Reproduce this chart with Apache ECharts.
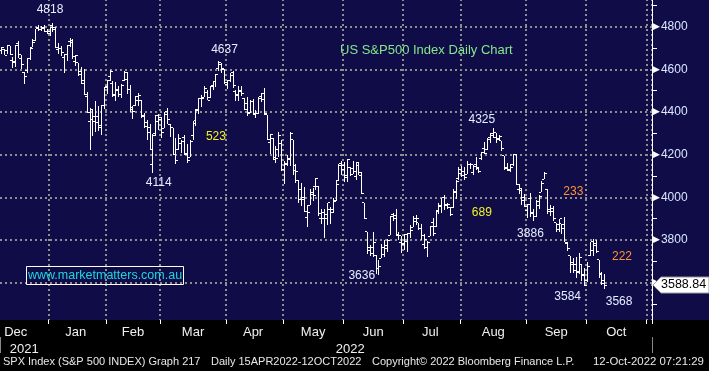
<!DOCTYPE html>
<html><head><meta charset="utf-8">
<script src="https://cdn.jsdelivr.net/npm/echarts/dist/echarts.min.js"></script>
<style>html,body{margin:0;padding:0;background:#000;overflow:hidden;width:709px;height:371px;}
#c{position:absolute;left:0;top:-16px;width:709px;height:387px;}</style>
</head><body><div id="c"></div>
<script>
// ---- categories: US trading days (weekends + exchange holidays skipped) ----
const firstDay = [2021, 11, 8];
const lastDay = [2022, 10, 2];
const holidays = ['2021-12-24','2022-01-17','2022-02-21','2022-04-15','2022-05-30','2022-06-20','2022-07-04','2022-09-05'];
const monthNames = ['Jan','Feb','Mar','Apr','May','Jun','Jul','Aug','Sep','Oct','Nov','Dec'];

// ---- daily OHLC values (Dec 8 2021 .. Oct 11 2022) ----
const opens = [
 4690,4691,4687,4710,4642,4636,4719,4652,4587,4595,4650,4703,4733,4795,4788,4795,4775,
 4778,4805,4788,4693,4698,4655,4669,4729,4734,4638,4632,4588,4547,4471,4356,4367,4381,4381,4336,4432,
 4520,4566,4535,4483,4506,4480,4547,4553,4506,4413,4429,4456,4456,4385,4333,4325,4156,4298,4354,
 4363,4323,4401,4342,4327,4203,4223,4253,4280,4203,4189,4288,4345,4407,4462,4469,4493,4470,4523,4541,4603,4624,4599,
 4540,4548,4572,4494,4475,4494,4463,4438,4394,4449,4386,4391,4472,4489,4386,4255,4278,4187,4223,4254,
 4131,4160,4181,4270,4128,4081,4035,3990,3904,3964,4013,4052,4052,3899,3928,3919,3943,3930,3985,4077,4151,
 4150,4095,4138,4135,4096,4147,4102,3974,3838,3764,3764,3728,3666,3715,3734,3775,3822,3921,3913,3825,3786,
 3781,3793,3832,3859,3888,3881,3852,3780,3764,3818,3884,3861,3935,3955,3998,3966,3953,3951,4026,4087,
 4112,4104,4108,4155,4116,4156,4133,4181,4227,4225,4269,4290,4280,4273,4266,4195,4133,4127,4153,4199,4035,4041,4001,
 3937,3995,3931,3909,3960,4023,4084,4037,3941,3932,3881,3850,3875,3871,3782,3727,3683,3686,3652,3687,3633,
 3610,3726,3753,3772,3707,3644,3596
];
const highs = [
 4705,4695,4713,4710,4660,4712,4731,4666,4587,4651,4698,4740,4791,4807,4804,4808,4787,
 4797,4819,4798,4725,4708,4673,4714,4749,4744,4665,4632,4612,4602,4495,4417,4411,4453,4429,4433,4517,
 4550,4595,4543,4540,4522,4531,4590,4589,4526,4426,4473,4490,4456,4395,4362,4342,4295,4385,4389,
 4378,4401,4417,4342,4327,4277,4299,4268,4291,4248,4271,4358,4413,4465,4482,4522,4501,4521,4546,4576,4637,4628,4603,
 4549,4584,4593,4504,4521,4520,4464,4471,4454,4460,4410,4471,4488,4513,4386,4299,4278,4241,4308,4270,
 4170,4200,4308,4270,4158,4081,4069,4049,3965,4039,4046,4089,4052,3946,3943,3975,3956,3999,4075,4158,4168,
 4167,4178,4143,4169,4165,4160,4119,3974,3838,3778,3838,3728,3708,3780,3802,3803,3914,3928,3946,3837,3819,
 3830,3832,3871,3911,3919,3881,3873,3829,3796,3864,3902,3940,3974,3999,4012,3975,3953,4040,4079,4140,
 4145,4140,4168,4161,4152,4187,4137,4211,4258,4280,4302,4325,4302,4293,4266,4195,4160,4157,4201,4203,4063,4045,4015,
 3970,4018,3943,3988,4011,4077,4119,4037,3962,3959,3881,3900,3876,3907,3790,3727,3716,3718,3737,3687,3671,
 3698,3792,3807,3798,3707,3652,3641
];
const lows = [
 4674,4665,4670,4667,4606,4611,4651,4600,4531,4583,4645,4703,4733,4781,4778,4775,4765,
 4758,4774,4699,4671,4663,4582,4638,4707,4650,4615,4569,4530,4478,4395,4223,4287,4305,4310,4292,4414,
 4484,4544,4470,4452,4471,4465,4547,4484,4401,4365,4429,4430,4374,4327,4267,4222,4115,4287,4315,
 4280,4323,4346,4285,4200,4158,4223,4210,4200,4162,4188,4268,4336,4391,4424,4469,4456,4465,4501,4518,4590,4581,4530,
 4508,4539,4514,4450,4450,4475,4408,4381,4393,4391,4370,4391,4449,4384,4268,4201,4175,4163,4189,4124,
 4063,4147,4149,4106,4068,3975,3958,3929,3859,3964,3984,4034,3912,3877,3810,3869,3875,3925,3985,4077,4105,
 4074,4074,4099,4109,4080,4107,4017,3900,3734,3725,3722,3640,3637,3715,3718,3744,3822,3890,3820,3799,3739,
 3752,3742,3809,3859,3869,3847,3802,3759,3722,3817,3819,3861,3922,3928,3939,3943,3911,3951,3993,4079,
 4096,4080,4108,4135,4107,4129,4112,4177,4201,4220,4257,4278,4253,4262,4219,4130,4124,4120,4148,4058,4017,3965,3955,
 3904,3906,3887,3906,3945,4023,4084,3922,3912,3888,3837,3839,3828,3789,3749,3647,3645,3623,3641,3610,3584,
 3605,3726,3723,3739,3621,3588,3568
];
const closes = [
 4701,4667,4712,4669,4634,4710,4669,4621,4568,4649,4697,4726,4791,4786,4793,4779,4766,
 4797,4794,4701,4696,4677,4670,4713,4726,4659,4663,4577,4533,4483,4398,4410,4356,4350,4327,4432,4516,
 4547,4589,4477,4501,4484,4522,4587,4504,4419,4402,4471,4475,4380,4349,4305,4226,4289,4385,4374,
 4306,4387,4363,4329,4201,4171,4278,4260,4204,4173,4262,4358,4412,4463,4461,4512,4456,4520,4543,4576,4632,4602,4530,
 4546,4583,4525,4481,4500,4488,4413,4397,4447,4393,4392,4462,4459,4394,4272,4296,4175,4184,4288,4132,
 4155,4175,4300,4147,4123,3991,4001,3935,3930,4024,4008,4089,3924,3901,3901,3974,3941,3979,4058,4158,4132,
 4101,4177,4109,4121,4161,4116,4018,3901,3750,3735,3790,3667,3675,3765,3760,3796,3912,3900,3822,3819,3785,
 3825,3831,3845,3903,3899,3854,3819,3802,3790,3863,3831,3937,3960,3999,3962,3967,3921,4024,4072,4130,
 4119,4091,4155,4152,4145,4140,4122,4210,4207,4280,4297,4305,4274,4284,4228,4138,4129,4141,4199,4058,4031,3986,3955,
 3967,3924,3908,3980,4006,4067,4110,3933,3946,3901,3873,3900,3856,3790,3758,3693,3655,3647,3719,3640,3586,
 3678,3791,3783,3745,3640,3612,3588.84
];

// ---- y axis ticks ----
const yMin = 3400, yMax = 5000, yStep = 200;

// ---- annotations ----
const annoText  = ['4818','4637','523','4114','3636','4325','689','3886','233','3584','222','3568'];
const annoIdx   = [17, 78, 75, 55, 126, 168, 168, 185, 200, 198, 217, 216];
const annoVal   = [4880, 4692, 4284, 4069, 3633, 4364, 3928, 3830, 4027, 3534, 3722, 3511];
const annoKind  = ['n','n','y','n','n','n','y','n','o','n','o','n'];

const FONT = '"Liberation Sans", Arial, sans-serif';
const COLORS = {n:'#e6eeff', y:'#f4f41e', o:'#ff9430'};
const OFF = 16; // chart canvas is shifted up by this many px (page y + OFF = chart y)

// build trading-day categories
const dates = [];
(function(){
  let t = Date.UTC(firstDay[0], firstDay[1], firstDay[2]);
  const end = Date.UTC(lastDay[0], lastDay[1], lastDay[2]);
  while (t <= end) {
    const d = new Date(t);
    const wd = d.getUTCDay();
    const s = d.toISOString().slice(0, 10);
    if (wd !== 0 && wd !== 6 && holidays.indexOf(s) < 0) dates.push(s);
    t += 86400000;
  }
})();

// month segments
const segs = [];
dates.forEach((s, i) => {
  const m = s.slice(0, 7);
  if (!segs.length || segs[segs.length - 1].m !== m) segs.push({m: m, start: i, end: i});
  else segs[segs.length - 1].end = i;
});
const tickSet = new Set(segs.filter(g => g.start > 0).map(g => g.start));
const labelSet = new Set();
segs.forEach(g => {
  const n = g.end - g.start + 1;
  if (g.start === 0) labelSet.add(Math.max(0, g.end - 11));
  else if (n >= 15) labelSet.add(g.start + Math.floor((n - 1) / 2));
});
let yearSep = null;
segs.forEach(g => { if (g.m.slice(5) === '01') yearSep = g.start; });
const yearLabelSet = new Set([8, 122]);

const ohlc = opens.map((o, i) => [i, o, closes[i], lows[i], highs[i]]);
const annoData = annoIdx.map((x, i) => [x, annoVal[i]]);

const chart = echarts.init(document.getElementById('c'), null, {renderer: 'canvas'});
const chartH = 387;
const gridTop = 0, gridBottom = 45.67;
const axisBottomY = chartH - gridBottom;

const option = {
  backgroundColor: '#0f0c48',
  animation: false,
  title: {
    text: 'US S&P500 Index Daily Chart', left: 335, top: 39 + OFF,
    textStyle: {color: '#84e88a', fontSize: 13, fontWeight: 'normal', fontFamily: FONT}
  },
  grid: {left: 0, right: 57, top: gridTop, bottom: gridBottom, containLabel: false},
  xAxis: [
    { // vertical dotted grid
      type: 'category', data: dates, boundaryGap: true, z: 0,
      axisLine: {show: false}, axisTick: {show: false}, axisLabel: {show: false},
      splitLine: {show: true, interval: (i) => tickSet.has(i),
        lineStyle: {color: '#8e8e8e', width: 2, type: [2, 3]}}
    },
    { // month ticks + labels
      type: 'category', data: dates, boundaryGap: true, position: 'bottom', z: 6,
      offset: (320 + OFF) - axisBottomY,
      axisLine: {show: false},
      axisTick: {show: true, interval: (i) => tickSet.has(i), length: 4, lineStyle: {color: '#ffffff'}},
      axisLabel: {show: true, interval: (i) => labelSet.has(i), margin: 6,
        color: '#f0f0f0', fontSize: 13, fontFamily: FONT,
        formatter: (v) => monthNames[parseInt(v.slice(5, 7), 10) - 1]},
      splitLine: {show: false}
    },
    { // year separator + labels
      type: 'category', data: dates, boundaryGap: true, position: 'bottom', z: 6,
      offset: (337 + OFF) - axisBottomY,
      axisLine: {show: false},
      axisTick: {show: true, interval: (i) => i === yearSep, length: 16, lineStyle: {color: '#8a8a8a'}},
      axisLabel: {show: true, interval: (i) => yearLabelSet.has(i), margin: 6,
        color: '#f0f0f0', fontSize: 13, fontFamily: FONT,
        formatter: (v) => v.slice(0, 4)},
      splitLine: {show: false}
    }
  ],
  yAxis: {
    type: 'value', position: 'right', min: yMin, max: yMax, interval: yStep, z: 0,
    axisLine: {show: true, lineStyle: {color: '#ffffff', width: 1}},
    axisTick: {show: false},
    minorTick: {show: true, splitNumber: 2, length: 5, lineStyle: {color: '#ffffff'}},
    splitLine: {show: true, lineStyle: {color: '#8e8e8e', width: 2, type: [2, 3]}},
    axisLabel: {
      margin: 1,
      formatter: (v) => (v <= yMin || v >= yMax) ? '' : '{t|\u25B6}{v|' + v + '}',
      rich: {
        t: {color: '#ffffff', fontSize: 9, fontFamily: 'DejaVu Sans', padding: [0, 1, 0, 0]},
        v: {color: '#dbe6ff', fontSize: 12, fontFamily: FONT}
      }
    }
  },
  series: [
    {
      type: 'custom', name: 'SPX', xAxisIndex: 0, yAxisIndex: 0, z: 3,
      data: ohlc, encode: {x: 0, y: [1, 2, 3, 4]}, silent: true,
      renderItem: function (params, api) {
        const i = api.value(0);
        const pO = api.coord([i, api.value(1)]);
        const pC = api.coord([i, api.value(2)]);
        const pL = api.coord([i, api.value(3)]);
        const pH = api.coord([i, api.value(4)]);
        const xi = Math.round(pH[0] - 0.5);
        const yh = Math.round(pH[1]), yl = Math.round(pL[1]);
        const yo = Math.round(pO[1] - 0.5), yc = Math.round(pC[1] - 0.5);
        const st = {fill: '#ffffff'};
        return {type: 'group', children: [
          {type: 'rect', shape: {x: xi, y: yh, width: 1, height: Math.max(1, yl - yh)}, style: st},
          {type: 'rect', shape: {x: xi - 2, y: yo, width: 2, height: 1}, style: st},
          {type: 'rect', shape: {x: xi + 1, y: yc, width: 2, height: 1}, style: st}
        ]};
      }
    },
    {
      type: 'custom', name: 'notes', xAxisIndex: 0, yAxisIndex: 0, z: 4,
      data: annoData, encode: {x: 0, y: 1}, silent: true,
      renderItem: function (params, api) {
        const p = api.coord([api.value(0), api.value(1)]);
        return {type: 'text', x: p[0], y: p[1], style: {
          text: annoText[params.dataIndex], fill: COLORS[annoKind[params.dataIndex]],
          fontSize: 12, fontFamily: FONT, align: 'center', verticalAlign: 'middle'}};
      }
    }
  ]
};
chart.setOption(option);

const py = chart.convertToPixel({yAxisIndex: 0}, closes[closes.length - 1]);
chart.setOption({
  graphic: {elements: [
    {id: 'bottom', type: 'rect', z: 2, shape: {x: 0, y: 320 + OFF, width: 709, height: 51}, style: {fill: '#000000'}, silent: true},
    {id: 'wmBox', type: 'rect', z: 5, shape: {x: 26.5, y: 266.5 + OFF, width: 157, height: 18}, style: {fill: 'none', stroke: '#ffffff', lineWidth: 1}},
    {id: 'wmText', type: 'text', z: 5, x: 105, y: 276 + OFF, style: {text: 'www.marketmatters.com.au', fill: '#1ed6e2', fontSize: 12.5, fontFamily: FONT, align: 'center', verticalAlign: 'middle'}},
    {id: 'tag', type: 'polygon', z: 8, shape: {points: [[653, py], [661, py - 8], [709, py - 8], [709, py + 8], [661, py + 8]]}, style: {fill: '#ffffff', stroke: '#9a9a9a', lineWidth: 1}},
    {id: 'tagText', type: 'text', z: 9, x: 661, y: py, style: {text: closes[closes.length - 1].toFixed(2), fill: '#000000', fontSize: 12.5, fontFamily: FONT, verticalAlign: 'middle'}},
    {id: 'f1', type: 'text', z: 9, x: 3, y: 362 + OFF, style: {text: 'SPX Index (S&P 500 INDEX) Graph 217', fill: '#e8e8e8', fontSize: 11, fontFamily: FONT, verticalAlign: 'middle'}},
    {id: 'f2', type: 'text', z: 9, x: 211, y: 362 + OFF, style: {text: 'Daily 15APR2022-12OCT2022', fill: '#e8e8e8', fontSize: 11, fontFamily: FONT, verticalAlign: 'middle'}},
    {id: 'f3', type: 'text', z: 9, x: 372, y: 362 + OFF, style: {text: 'Copyright\u00A9 2022 Bloomberg Finance L.P.', fill: '#e8e8e8', fontSize: 11, fontFamily: FONT, verticalAlign: 'middle'}},
    {id: 'f4', type: 'text', z: 9, x: 593, y: 362 + OFF, style: {text: '12-Oct-2022 07:21:29', fill: '#e8e8e8', fontSize: 11.4, fontFamily: FONT, verticalAlign: 'middle'}}
  ]}
});
</script>
</body></html>
